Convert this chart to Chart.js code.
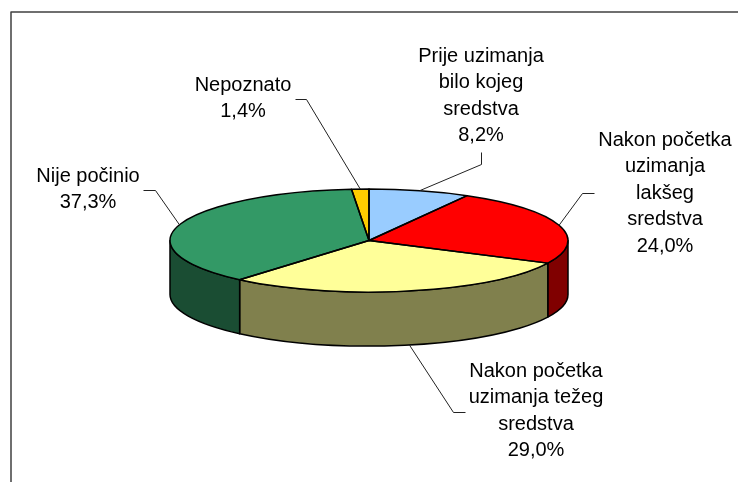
<!DOCTYPE html>
<html>
<head>
<meta charset="utf-8">
<style>html,body{margin:0;padding:0;background:#fff}canvas{display:block}</style>
<script src="https://cdn.jsdelivr.net/npm/chart.js@4"></script>
</head>
<body>
<canvas id="c" width="738" height="482"></canvas>
<script>
const categories = ["Prije uzimanja bilo kojeg sredstva","Nakon početka uzimanja lakšeg sredstva","Nakon početka uzimanja težeg sredstva","Nije počinio","Nepoznato"];
const values = [8.2,24.0,29.0,37.3,1.4];
const labelLines = [["Prije uzimanja","bilo kojeg","sredstva"],["Nakon početka","uzimanja","lakšeg","sredstva"],["Nakon početka","uzimanja težeg","sredstva"],["Nije počinio"],["Nepoznato"]];
const topColors = ["#99CCFF","#FF0000","#FFFF99","#339966","#FFCC00"];
const wallColors = ["#4D6680","#800000","#80804D","#1A4D33","#806600"];

// layout of the labels: centre x, first-line centre y, and the elbow of the leader
const labelBoxes = [
  {x:481,y:56,elbow:[481,164],end:[481,152]},
  {x:665,y:140,elbow:[582,193],end:[594,193]},
  {x:536,y:371,elbow:[453,412],end:[465,412],onWall:true},
  {x:88,y:176,elbow:[155,190],end:[143,190]},
  {x:243,y:85,elbow:[306,99],end:[295,99]}
];
const radius = 199, squash = 0.259, depth = 54, lineHeight = 26.6;

const pie3d = {
  id:'pie3d',
  beforeDatasetsDraw(chart){
    const ctx = chart.ctx, arcs = chart.getDatasetMeta(0).data;
    const cx = arcs[0].x, cy = arcs[0].y, ry = radius*squash;
    ctx.save();
    ctx.lineWidth = 1.5; ctx.strokeStyle = '#000'; ctx.lineJoin='round';
    arcs.forEach((a,i)=>{
      const s = Math.max(a.startAngle,0), e = Math.min(a.endAngle,Math.PI);
      if(s>=e) return;
      ctx.beginPath();
      ctx.ellipse(cx,cy,radius,ry,0,s,e);
      ctx.ellipse(cx,cy+depth,radius,ry,0,e,s,true);
      ctx.closePath();
      ctx.fillStyle = wallColors[i];
      ctx.fill(); ctx.stroke();
    });
    ctx.restore();
    ctx.save();
    ctx.translate(cx,cy); ctx.scale(1,squash); ctx.translate(-cx,-cy);
  },
  afterDatasetsDraw(chart){
    const ctx = chart.ctx, arcs = chart.getDatasetMeta(0).data;
    ctx.restore();
    const cx = arcs[0].x, cy = arcs[0].y, ry = radius*squash;
    ctx.save();
    ctx.lineWidth = 1.5; ctx.strokeStyle = '#000'; ctx.lineJoin='round';
    arcs.forEach(a=>{
      ctx.beginPath();
      ctx.moveTo(cx,cy);
      ctx.ellipse(cx,cy,radius,ry,0,a.startAngle,a.endAngle);
      ctx.closePath();
      ctx.stroke();
    });
    // frame
    ctx.strokeStyle = '#404040'; ctx.lineWidth = 1.5;
    ctx.beginPath(); ctx.moveTo(11,482); ctx.lineTo(11,12); ctx.lineTo(738,12); ctx.stroke();
    // leaders and labels
    ctx.font = '20px "Liberation Sans", Arial, sans-serif';
    ctx.textAlign='center'; ctx.textBaseline='middle';
    arcs.forEach((a,i)=>{
      const b = labelBoxes[i], mid = (a.startAngle+a.endAngle)/2;
      ctx.strokeStyle='#222'; ctx.lineWidth=1;
      ctx.beginPath();
      ctx.moveTo(cx+radius*Math.cos(mid), cy+ry*Math.sin(mid)+(b.onWall?depth:0));
      ctx.lineTo(b.elbow[0]+.5,b.elbow[1]+.5);
      ctx.lineTo(b.end[0]+.5,b.end[1]+.5);
      ctx.stroke();
      const lines = labelLines[i].concat(values[i].toFixed(1).replace('.',',')+'%');
      ctx.fillStyle='#000';
      lines.forEach((t,k)=>ctx.fillText(t,b.x,b.y+k*lineHeight));
    });
    ctx.restore();
  }
};

new Chart(document.getElementById('c'),{
  type:'pie',
  data:{labels:categories,datasets:[{data:values,backgroundColor:topColors,borderWidth:0,radius:radius,clip:false}]},
  options:{
    responsive:false,animation:false,
    layout:{padding:{bottom:1}},
    events:[],
    plugins:{legend:{display:false},tooltip:{enabled:false}}
  },
  plugins:[pie3d]
});
</script>
</body>
</html>
